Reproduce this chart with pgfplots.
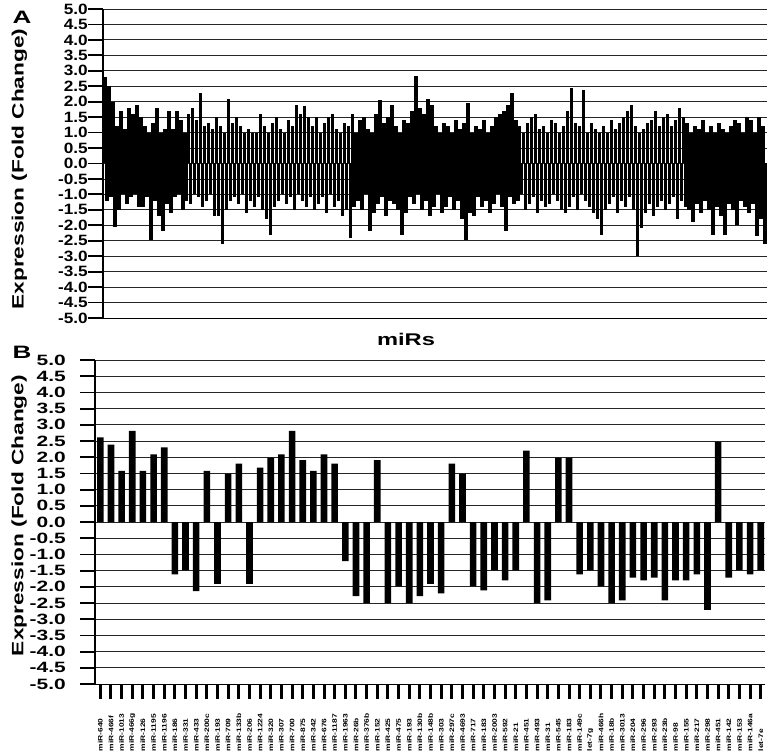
\documentclass[border=0pt]{standalone}
\usepackage{pgfplots}
\pgfplotsset{compat=1.18}
\usepackage{pgfplotstable}
\usepackage{fontspec}
\setmainfont{Liberation Sans}

% panel A: every row holds one up value and the next down value
\pgfplotstableread{
p n
2.8 -1.2
2.5 -1.1
2.0 -2.05
1.2 -1.5
1.7 -1.0
1.1 -1.3
1.8 -1.1
1.6 -1.0
1.9 -1.4
1.5 -1.4
1.2 -1.1
1.0 -2.47
1.3 -1.2
1.8 -1.7
1.0 -2.2
1.1 -1.3
1.7 -1.6
1.1 -1.1
1.7 -1.0
1.4 -1.5
1.0 -1.2
1.6 -1.3
1.8 -1.0
1.4 -1.1
2.28 -1.4
1.2 -1.2
1.3 -1.0
1.1 -1.7
1.5 -1.7
1.2 -2.6
1.0 -1.5
2.1 -1.2
1.3 -1.1
1.5 -1.3
1.2 -1.0
1.0 -1.6
1.1 -1.2
1.0 -1.4
1.0 -1.1
1.6 -1.5
1.2 -1.8
1.0 -2.3
1.3 -1.4
1.5 -1.2
1.1 -1.0
1.0 -1.3
1.4 -1.1
1.2 -1.5
1.9 -1.0
1.6 -1.2
1.85 -1.4
1.5 -1.1
1.2 -1.5
1.5 -1.3
1.0 -1.1
1.3 -1.6
1.5 -1.0
1.6 -1.4
1.1 -1.2
1.0 -1.7
1.3 -1.5
1.2 -2.4
1.6 -1.4
1.0 -1.2
1.4 -1.5
1.5 -1.0
1.1 -2.2
1.0 -1.6
1.6 -1.3
2.05 -1.1
1.3 -1.7
1.5 -1.2
1.9 -1.3
1.2 -1.5
1.0 -2.3
1.4 -1.6
1.3 -1.1
1.7 -1.3
2.83 -1.0
1.8 -1.5
1.6 -1.2
2.1 -1.7
1.9 -1.4
1.2 -1.0
1.0 -1.6
1.3 -1.4
1.2 -1.1
1.0 -1.5
1.4 -1.2
1.1 -1.8
1.3 -2.48
1.95 -1.6
1.0 -1.7
1.2 -1.1
1.1 -1.4
1.4 -1.2
1.0 -1.6
1.2 -1.3
1.5 -1.0
1.6 -1.4
1.7 -2.2
1.9 -1.1
2.27 -1.3
1.4 -1.2
1.2 -1.0
1.0 -1.5
1.3 -1.3
1.5 -1.1
1.6 -1.6
1.1 -1.2
1.2 -1.4
1.0 -1.3
1.4 -1.0
1.3 -1.2
1.0 -1.5
1.2 -1.6
1.7 -1.4
2.44 -1.1
1.3 -1.5
1.2 -1.0
2.38 -1.2
1.0 -1.4
1.3 -1.6
1.1 -1.8
1.0 -2.3
1.2 -1.5
1.0 -1.3
1.4 -1.1
1.1 -1.6
1.3 -1.2
1.5 -1.4
1.7 -1.1
1.9 -1.5
1.2 -3.0
1.0 -2.1
1.1 -1.6
1.3 -1.3
1.4 -1.7
1.7 -1.4
1.2 -1.2
1.5 -1.5
1.6 -1.3
1.2 -1.1
1.4 -1.8
1.8 -1.2
1.5 -1.4
1.3 -1.5
1.0 -1.9
1.2 -1.3
1.1 -1.6
1.4 -1.2
1.0 -1.5
1.2 -2.3
1.0 -1.4
1.3 -1.7
1.1 -2.3
1.0 -1.3
1.2 -1.5
1.4 -2.0
1.3 -1.2
1.0 -1.4
1.5 -1.6
1.4 -1.3
1.0 -2.35
1.5 -1.8
1.2 -2.6
}\arraydata

% panel B: significant miRs
\pgfplotstableread{
v
2.61
2.39
1.58
2.81
1.58
2.09
2.30
-1.62
-1.49
-2.13
1.58
-1.91
1.49
1.80
-1.91
1.68
1.99
2.09
2.81
1.91
1.58
2.09
1.80
-1.21
-2.29
-2.50
1.91
-2.50
-1.99
-2.50
-2.29
-1.91
-2.20
1.80
1.49
-1.99
-2.11
-1.49
-1.80
-1.49
2.20
-2.50
-2.42
1.99
1.99
-1.62
-1.49
-1.99
-2.50
-2.42
-1.72
-1.80
-1.72
-2.42
-1.80
-1.80
-1.62
-2.71
2.47
-1.72
-1.49
-1.62
-1.49
}\sigdata

\pgfplotsset{
  panel/.style={
    scale only axis,
    axis y line*=left,
    axis x line*=bottom,
    ymin=-5, ymax=5,
    ytick={-5,-4.5,-4,-3.5,-3,-2.5,-2,-1.5,-1,-0.5,0,0.5,1,1.5,2,2.5,3,3.5,4,4.5,5},
    yticklabels={-5.0,-4.5,-4.0,-3.5,-3.0,-2.5,-2.0,-1.5,-1.0,-0.5,0.0,0.5,1.0,1.5,2.0,2.5,3.0,3.5,4.0,4.5,5.0},
    ymajorgrids,
    major grid style={black!85, line width=0.8bp},
    y axis line style={line width=2.2bp},
    x axis line style={line width=0.8bp},
    tick align=outside,
    major tick length=15bp,
    ytick style={line width=1.8bp, black},
    yticklabel style={font=\fontsize{15}{15}\selectfont\bfseries, anchor=east, inner sep=0pt},
    ylabel={Expression (Fold Change)},
  },
}

\begin{document}
\begin{tikzpicture}
\path[use as bounding box] (0,0) rectangle (771bp,754bp);

\begin{axis}[
    panel,
    at={(103bp,436bp)}, anchor=south west,
    width=664bp, height=309bp,
    xmin=-1, xmax=332,
    xtick=\empty,
    yticklabel style={xscale=1.15},
    ylabel style={at={(axis description cs:-0.126,0.482)}, anchor=center,
        font=\fontsize{16.5}{18}\selectfont\bfseries, xscale=1.38},
]
\addplot[ycomb, black, line width=3.5bp] table[x expr=2*\coordindex, y=p] {\arraydata};
\addplot[ycomb, black, line width=3.5bp] table[x expr=2*\coordindex+1, y=n] {\arraydata};
\end{axis}

\begin{axis}[
    panel,
    at={(95bp,70bp)}, anchor=south west,
    width=670bp, height=324bp,
    ybar, bar width=0.62,
    xmin=-0.5, xmax=62.4,
    xtick={0,...,62},
    xtick style={line width=3bp, black},
    xticklabels={miR-640,miR-466f,miR-1013,miR-466g,miR-126,miR-1195,miR-1196,miR-186,miR-331,miR-433,miR-200c,miR-193,miR-709,miR-133b,miR-206,miR-1224,miR-320,miR-307,miR-700,miR-875,miR-342,miR-676,miR-1187,miR-1963,miR-26b,miR-376b,miR-152,miR-425,miR-475,miR-193,miR-130b,miR-148b,miR-303,miR-297c,miR-4693,miR-717,miR-183,miR-2003,miR-592,miR-21,miR-451,miR-493,miR-31,miR-545,miR-183,miR-149c,let-7g,miR-466h,miR-18b,miR-3013,miR-204,miR-296,miR-293,miR-23b,miR-98,miR-155,miR-217,miR-298,miR-451,miR-142,miR-153,miR-146a,let-7e},
    xticklabel style={rotate=90, xscale=1.3, anchor=west, inner sep=0.5bp,
        font=\fontsize{6.5}{7}\selectfont\bfseries},
    xticklabel shift=53bp,
    yticklabel style={xscale=1.4, xshift=-10bp},
    ylabel style={at={(axis description cs:-0.113,0.52)}, anchor=center,
        font=\fontsize{16.5}{18}\selectfont\bfseries, xscale=1.38},
]
\addplot[fill=black, draw=none] table[x expr=\coordindex, y=v] {\sigdata};
\end{axis}

\node[font=\fontsize{18}{18}\selectfont\bfseries, xscale=1.45] at (22bp,737bp) {A};
\node[font=\fontsize{18}{18}\selectfont\bfseries, xscale=1.45] at (22bp,402bp) {B};
\node[font=\fontsize{17}{17}\selectfont\bfseries, xscale=1.4] at (406bp,415bp) {miRs};
\end{tikzpicture}
\end{document}
